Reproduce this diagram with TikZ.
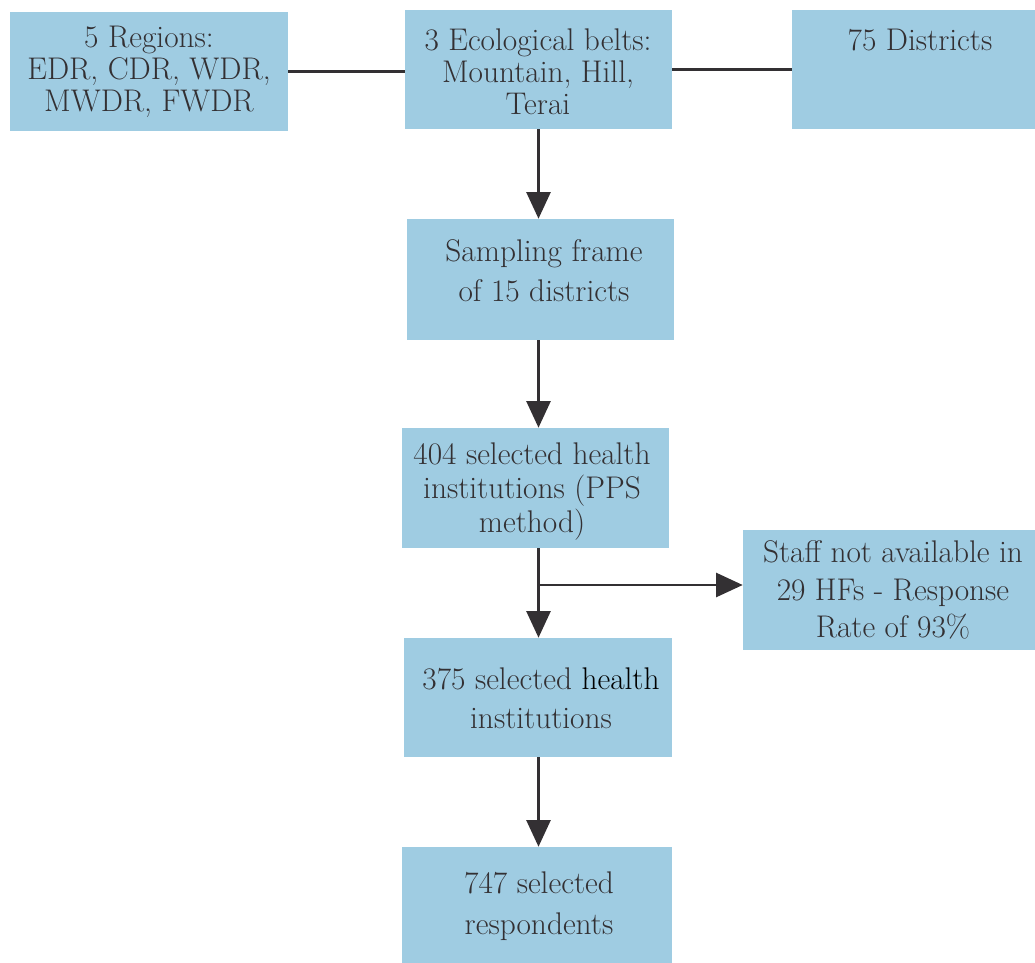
\documentclass[tikz,border=0pt]{standalone}
\usetikzlibrary{arrows.meta}
\definecolor{boxblue}{HTML}{9FCCE2}
\definecolor{ink}{HTML}{333033}
\begin{document}
\begin{tikzpicture}[x=0.75pt,y=-0.75pt,
  box/.style={fill=boxblue, draw=none, inner sep=0pt},
  txt/.style={text=ink, align=center, inner sep=0pt, font=\fontsize{23.5}{24}\selectfont},
  conn/.style={draw=ink, line width=2pt},
  arr/.style={conn, -{Triangle[length=20pt,width=18pt]}}]
\useasboundingbox (0,0) rectangle (1035,963);
% boxes
\node[box, minimum width=208.5pt, minimum height=89.25pt] (b1) at (149,71.5) {};
\node[box, minimum width=200.25pt, minimum height=89.25pt] (b2) at (538.5,69.5) {};
\node[box, minimum width=182.25pt, minimum height=89.25pt] (b3) at (913.5,69.5) {};
\node[box, minimum width=200.25pt, minimum height=90.75pt] (b4) at (540.5,279.5) {};
\node[box, minimum width=200.25pt, minimum height=90pt] (b5) at (535.5,488) {};
\node[box, minimum width=219pt, minimum height=90pt] (b6) at (889,590) {};
\node[box, minimum width=201pt, minimum height=89.25pt] (b7) at (538,697.5) {};
\node[box, minimum width=202.5pt, minimum height=87pt] (b8) at (537,905) {};
% texts
\node[txt] (t1) at (149,71.5) {5 Regions:\\EDR, CDR, WDR,\\MWDR, FWDR};
\node[txt] (t2) at (538,71.5) {3 Ecological belts:\\Mountain, Hill,\\Terai};
\node[txt] (t3) at (920,40) {75 Districts};
\node[txt, font=\fontsize{23.5}{30}\selectfont] (t4) at (544,271) {Sampling frame\\of 15 districts};
\node[txt, font=\fontsize{23.5}{25.5}\selectfont] (t5) at (532,492) {404 selected health\\institutions (PPS\\method)};
\node[txt, font=\fontsize{23.5}{28}\selectfont] (t6) at (893,590) {Staff not available in\\29 HFs - Response\\Rate of 93\%};
\node[txt, font=\fontsize{23.5}{29}\selectfont] (t7) at (541,698) {375 selected \textcolor{black}{health}\\institutions};
\node[txt, font=\fontsize{23.5}{31}\selectfont] (t8) at (539,906) {747 selected\\respondents};
% connectors
\draw[conn] (b1.east) -- (b1.east -| b2.west);
\draw[conn] (b2.east) -- (b3.west);
\draw[arr] (b2.south) -- (b4.north -| b2.south);
\draw[arr] (b4.south -| b2.south) -- (b5.north -| b2.south);
\draw[arr] (b5.south -| b2.south) -- (b7.north -| b2.south);
\coordinate (br) at (538,585);
\draw[arr] (br) -- (br -| b6.west);
\draw[arr] (b7.south -| b2.south) -- (b8.north -| b2.south);
\end{tikzpicture}
\end{document}
